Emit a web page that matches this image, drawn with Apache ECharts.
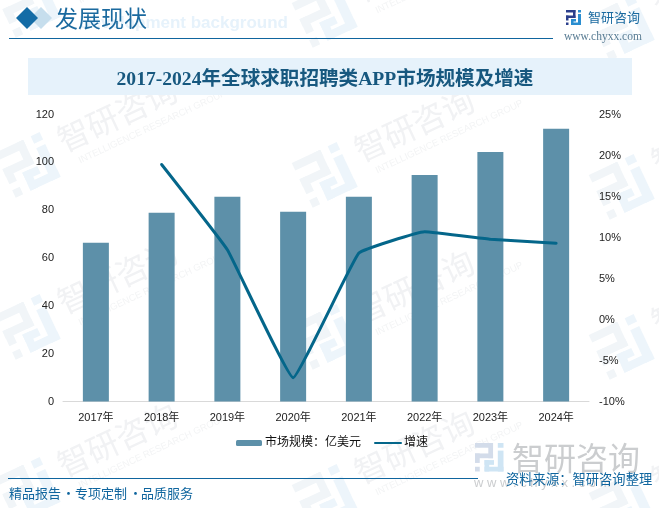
<!DOCTYPE html>
<html>
<head>
    <meta charset="utf-8">
    <title>全球求职招聘类APP市场规模及增速</title>
    <script src="https://cdn.jsdelivr.net/npm/echarts@6/dist/echarts.min.js"></script>
    <style>
        html, body { margin: 0; padding: 0; background: #fff; }
    </style>
</head>
<body>
    <div id="main" style="width: 659px;height:508px;"></div>
    <script type="text/javascript">
        var years = ['2017年', '2018年', '2019年', '2020年', '2021年', '2022年', '2023年', '2024年'];
        var marketSize = [66.4, 78.9, 85.6, 79.3, 85.6, 94.7, 104.3, 114];
        var growth = [null, 18.9, 8.5, -7.1, 8.1, 10.7, 9.8, 9.3];
        var titleText = '2017-2024年全球求职招聘类APP市场规模及增速';

        var myChart = echarts.init(document.getElementById('main'));
        var serif = '"Liberation Serif", "Noto Sans CJK SC", serif';
        var sans = '"Liberation Sans", "Noto Sans CJK SC", sans-serif';

        // company logo made of small blocks, 30x30 units
        function logo(x, y, scale, dark, light, rotation) {
            var left = [[0, 0, 19, 5], [14, 0, 5, 16], [0, 11, 19, 5], [0, 11, 5, 10], [0, 25, 5, 5]];
            var right = [[24, 0, 6, 5], [24, 8, 6, 22], [10, 25, 20, 5], [10, 18, 5, 12], [10, 18, 10, 5]];
            var children = left.map(function (r) {
                return { type: 'rect', shape: { x: r[0], y: r[1], width: r[2], height: r[3] }, style: { fill: dark } };
            }).concat(right.map(function (r) {
                return { type: 'rect', shape: { x: r[0], y: r[1], width: r[2], height: r[3] }, style: { fill: light } };
            }));
            return { type: 'group', x: x, y: y, scaleX: scale, scaleY: scale, rotation: rotation || 0, children: children, silent: true };
        }

        // faint tilted watermark, x/y is the logo centre
        function watermark(x, y) {
            return {
                type: 'group', x: x, y: y, rotation: 25 * Math.PI / 180, silent: true,
                children: [
                    logo(-25, -25, 1.65, '#f1f5f8', '#edf5fb'),
                    { type: 'text', x: 38, y: -24, style: { text: '智研咨询', fill: '#f1f2f4', font: '32px "Noto Sans CJK SC"' } },
                    { type: 'text', x: 48, y: 13, style: { text: 'INTELLIGENCE RESEARCH GROUP', fill: '#f3f4f5', font: '9.5px "Liberation Sans"' } }
                ]
            };
        }

        var marks = [];
        [[28, 5], [28, 165], [28, 327], [28, 490], [325, 15], [325, 175], [325, 337], [325, 497], [622, 28], [622, 187], [622, 347], [622, 505]].forEach(function (p) {
            marks.push(watermark(p[0], p[1]));
        });

        var header = [
            { type: 'text', x: 288, y: 23, style: { text: 'Development background', fill: '#e6f2fb', font: 'bold 17px "Liberation Sans"', textAlign: 'right', textVerticalAlign: 'middle' } },
            { type: 'polygon', shape: { points: [[41, 7], [52, 18], [41, 29], [30, 18]] }, style: { fill: '#c6deed' } },
            { type: 'polygon', shape: { points: [[27, 7], [38, 18], [27, 29], [16, 18]] }, style: { fill: '#146ca6' } },
            { type: 'text', x: 55, y: 18, style: { text: '发展现状', fill: '#1b6a9f', font: '23px "Noto Sans CJK SC"', textVerticalAlign: 'middle' } },
            { type: 'line', shape: { x1: 9, y1: 38.5, x2: 553, y2: 38.5 }, style: { stroke: '#0f659e', lineWidth: 1 } },
            logo(566, 10, 0.5, '#2b3f8c', '#2b8ed0'),
            { type: 'text', x: 588, y: 17, style: { text: '智研咨询', fill: '#1a6aa0', font: '13px "Noto Sans CJK SC"', textVerticalAlign: 'middle' } },
            { type: 'text', x: 564, y: 37, style: { text: 'www.chyxx.com', fill: '#5a7d94', font: '11.5px "Liberation Serif"', textVerticalAlign: 'middle' } },
            { type: 'rect', shape: { x: 28, y: 58, width: 604, height: 37 }, style: { fill: '#e6f2fb' } },
            { type: 'text', x: 325, y: 80, style: { text: titleText, fill: '#17587f', font: 'bold 19.6px ' + serif, textAlign: 'center', textVerticalAlign: 'middle' } }
        ];

        var footerLeft = [['精品报告', 9], ['·', 62], ['专项定制', 75], ['·', 129], ['品质服务', 141]].map(function (t) {
            return { type: 'text', x: t[1], y: 493, style: { text: t[0], fill: '#0f659e', font: '13px "Noto Sans CJK SC"', textVerticalAlign: 'middle' } };
        });

        var footer = [
            logo(475, 443, 0.95, '#d3dcea', '#cfe5f4'),
            { type: 'text', x: 512, y: 458, style: { text: '智研咨询', fill: '#cbcdcf', font: '32px "Noto Sans CJK SC"', textVerticalAlign: 'middle' } },
            { type: 'text', x: 474, y: 483, style: { text: 'w w w . c h y x x . c o m', fill: '#cbcdcf', font: '13px "Liberation Sans"', textVerticalAlign: 'middle' } },
            { type: 'line', shape: { x1: 8, y1: 478.5, x2: 478, y2: 478.5 }, style: { stroke: '#0f659e', lineWidth: 1 } },
            { type: 'text', x: 506, y: 479, style: { text: '资料来源：智研咨询整理', fill: '#0f659e', font: '13.3px "Noto Sans CJK SC"', textVerticalAlign: 'middle' } }
        ].concat(footerLeft);

        var option = {
            animation: false,
            backgroundColor: '#fff',
            graphic: marks.concat(header, footer),
            legend: {
                data: ['市场规模：亿美元', { name: '增速', itemStyle: { opacity: 0 } }],
                left: 236,
                top: 437,
                itemWidth: 26,
                itemHeight: 6,
                itemGap: 13,
                padding: 0,
                textStyle: { color: '#111', fontSize: 12, fontFamily: sans, padding: [0, 0, 0, -2] }
            },
            grid: { left: 63, right: 70, top: 114.5, bottom: 106.5 },
            xAxis: {
                type: 'category',
                data: years,
                axisLine: { lineStyle: { color: '#d9d9d9' } },
                axisTick: { length: 4, lineStyle: { color: '#d9d9d9' } },
                axisLabel: { color: '#222', fontSize: 11, fontFamily: sans, margin: 11 }
            },
            yAxis: [
                {
                    type: 'value', min: 0, max: 120, interval: 20,
                    axisLine: { show: false }, axisTick: { show: false }, splitLine: { show: false },
                    axisLabel: { color: '#222', fontSize: 11, fontFamily: sans, margin: 9 }
                },
                {
                    type: 'value', min: -10, max: 25, interval: 5,
                    axisLine: { show: false }, axisTick: { show: false }, splitLine: { show: false },
                    axisLabel: { color: '#222', fontSize: 11, fontFamily: sans, margin: 10, formatter: '{value}%' }
                }
            ],
            series: [
                {
                    name: '市场规模：亿美元', type: 'bar', data: marketSize, barWidth: 26,
                    itemStyle: { color: '#5d90a9' }
                },
                {
                    name: '增速', type: 'line', yAxisIndex: 1, data: growth,
                    showSymbol: false, symbol: 'none', smooth: 0.08,
                    lineStyle: { color: '#04668a', width: 3, cap: 'round' },
                    itemStyle: { color: '#04668a' }
                }
            ]
        };
        myChart.setOption(option);
    </script>
</body>
</html>
